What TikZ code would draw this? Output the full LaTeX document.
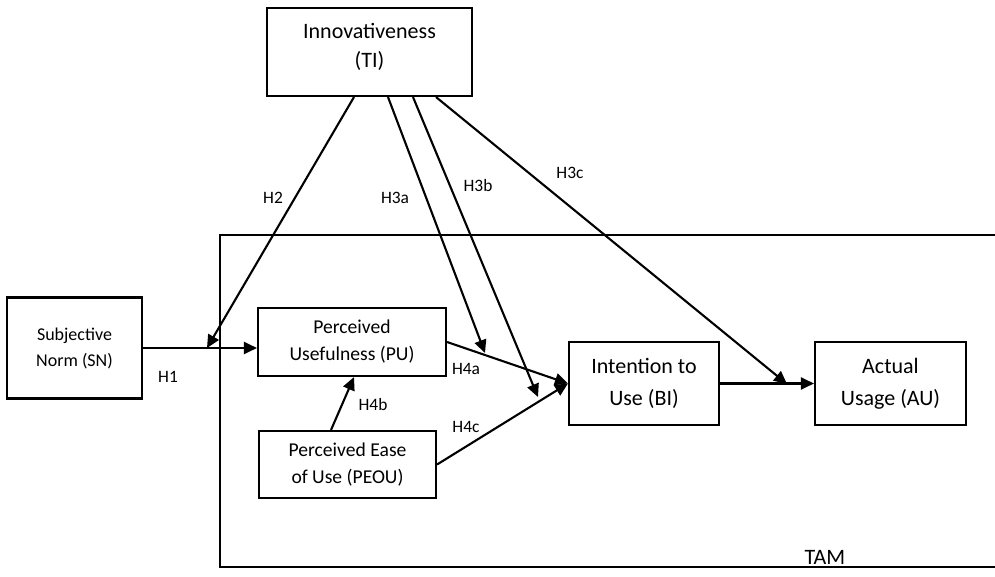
\documentclass[tikz,border=0pt]{standalone}
\usepackage{fontspec}
\setmainfont{Carlito}
\usetikzlibrary{arrows.meta}
\newcommand{\fbig}{\fontsize{22}{32}\selectfont}
\newcommand{\fti}{\fontsize{22}{29}\selectfont}
\newcommand{\fmid}{\fontsize{19.6}{27}\selectfont}
\newcommand{\fsn}{\fontsize{18}{26}\selectfont}
\newcommand{\flbl}{\fontsize{17.4}{20}\selectfont}
\tikzset{box/.style={draw, line width=2.1pt, align=center, inner sep=0pt},
  lbl/.style={inner sep=0pt, font=\flbl},
  arr/.style={line width=2.1pt, -{Triangle[length=13pt,width=12pt]}}}

\begin{document}
\begin{tikzpicture}[x=1pt, y=-1pt]
		\useasboundingbox (0,0) rectangle (995,577);
		\draw[line width=1.8pt] (995,235) -- (220,235) -- (220,567) -- (995,567);
		\node[lbl, font=\fbig] (tam) at (825,557) {TAM};
		\node[box, minimum width=205, minimum height=88, font=\fti, text depth=13.5pt] (ti) at (369.5,52) {Innovativeness\\(TI)};
		\node[box, minimum width=135, minimum height=101, font=\fsn] (sn) at (74.5,348) {Subjective\\Norm (SN)};
		\node[box, minimum width=188, minimum height=68, font=\fmid] (pu) at (352,342) {Perceived\\Usefulness (PU)};
		\node[box, minimum width=177, minimum height=67, font=\fmid] (peou) at (347.5,464.5) {Perceived Ease\\of Use (PEOU)};
		\node[box, minimum width=150, minimum height=83, font=\fbig] (bi) at (644,383.5) {Intention to\\Use (BI)};
		\node[box, minimum width=151, minimum height=83, font=\fbig] (au) at (890.5,383.5) {Actual\\Usage (AU)};
		\coordinate (h2end) at (207,348);
		\coordinate (h3aend) at (485,353);
		\coordinate (h3bend) at (538,397);
		\coordinate (h3cend) at (787,384);
		\draw[arr] (sn.east) -- (sn.east -| pu.west);
		\draw[arr] (ti.south -| 354,0) -- (h2end);
		\draw[arr] (ti.south -| 388,0) -- (h3aend);
		\draw[arr] (ti.south -| 413,0) -- (h3bend);
		\draw[arr] (ti.south -| 436,0) -- (h3cend);
		\draw[arr] (pu.east) -- (bi.west);
		\draw[arr] (peou.east) -- (bi.west);
		\draw[arr] (peou.north -| 331,0) -- (pu.south -| 354,0);
		\draw[arr] (bi.east) -- (au.west);
		\node[lbl] (h1) at (168,377) {H1};
		\node[lbl] (h2) at (273,198) {H2};
		\node[lbl] (h3a) at (395,198) {H3a};
		\node[lbl] (h3b) at (478,186) {H3b};
		\node[lbl] (h3c) at (570,173) {H3c};
		\node[lbl] (h4a) at (466,369) {H4a};
		\node[lbl] (h4b) at (373,405) {H4b};
		\node[lbl] (h4c) at (466,427) {H4c};
		\end{tikzpicture}
\end{document}
